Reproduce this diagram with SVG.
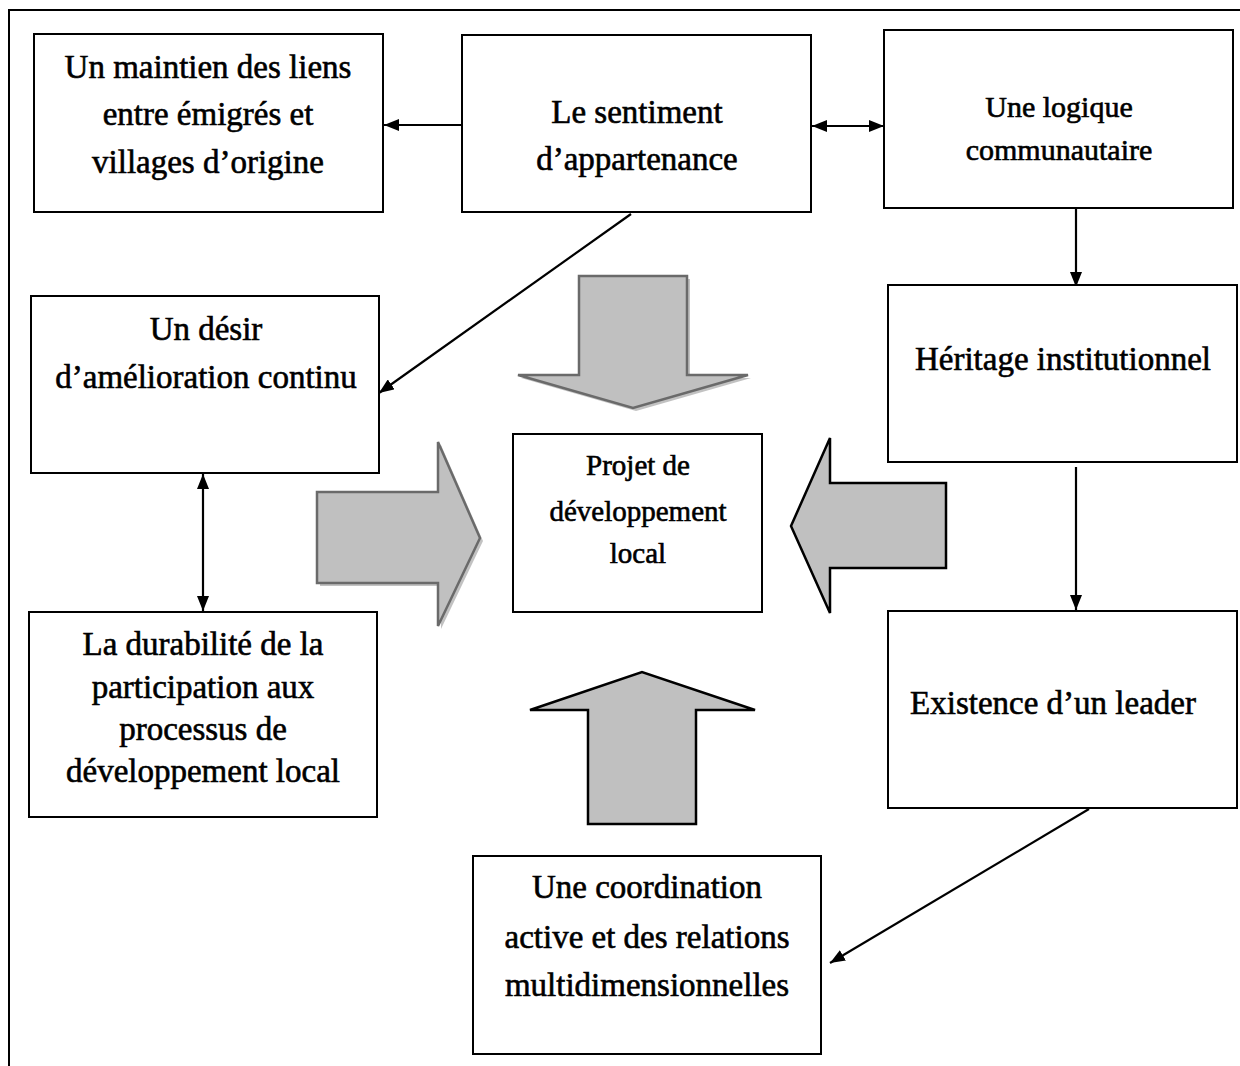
<svg xmlns="http://www.w3.org/2000/svg" width="1240" height="1066" viewBox="0 0 1240 1066">
  <style>
    .box { fill: #ffffff; stroke: #000000; stroke-width: 2; }
    .lbl { font-family: "Liberation Serif", "Times New Roman", serif; font-size: 33px; fill: #000000; stroke: #000000; stroke-width: 0.6; text-anchor: middle; }
    .sm { font-size: 30px; }
    .xs { font-size: 29px; }
    .conn { fill: none; stroke: #000000; stroke-width: 2.2; }
    .big { fill: #c0c0c0; stroke-width: 2.5; stroke-linejoin: miter; }
    .grey { stroke: #6a6a6a; }
    .dark { stroke: #000000; }
    .shadow { fill: #a8a8a8; opacity: 0.7; }
  </style>
  <defs>
    <marker id="head" viewBox="0 0 15 12" refX="15" refY="6" markerWidth="15" markerHeight="12" markerUnits="userSpaceOnUse" orient="auto-start-reverse">
      <path d="M0,0 L15,6 L0,12 Z" fill="#000000"/>
    </marker>
  </defs>
  <rect width="1240" height="1066" fill="#ffffff"/>

  <!-- page frame -->
  <path d="M9,1066 V10 H1240" fill="none" stroke="#000000" stroke-width="2"/>

  <!-- large block arrows around the central project -->
  <g id="block-arrows">
    <polygon class="shadow" points="582,279 690,279 690,378 751,378 636,411 521,378 582,378"/>
    <polygon class="big grey" points="579,276 687,276 687,375 748,375 633,408 518,375 579,375"/>
    <polygon class="shadow" points="320,495 441,495 441,445 483,541 441,629 441,586 320,586"/>
    <polygon class="big grey" points="317,492 438,492 438,442 480,538 438,626 438,583 317,583"/>
    <polygon class="big dark" points="946,483 830,483 830,438 791,526 830,613 830,568 946,568"/>
    <polygon class="big dark" points="588,824 696,824 696,710 755,710 642,672 530,710 588,710"/>
  </g>

  <!-- connectors -->
  <g id="connectors">
    <line class="conn" x1="462" y1="125" x2="384" y2="125" marker-end="url(#head)"/>
    <line class="conn" x1="812" y1="126" x2="884" y2="126" marker-start="url(#head)" marker-end="url(#head)"/>
    <line class="conn" x1="631" y1="214" x2="379" y2="393" marker-end="url(#head)"/>
    <line class="conn" x1="1076" y1="209" x2="1076" y2="287" marker-end="url(#head)"/>
    <line class="conn" x1="1076" y1="467" x2="1076" y2="610" marker-end="url(#head)"/>
    <line class="conn" x1="203" y1="474" x2="203" y2="611" marker-start="url(#head)" marker-end="url(#head)"/>
    <line class="conn" x1="1089" y1="809" x2="830" y2="963" marker-end="url(#head)"/>
  </g>

  <g id="maintien-liens">
    <rect class="box" x="34" y="34" width="349" height="178"/>
    <text class="lbl" x="208" y="78">Un maintien des liens</text>
    <text class="lbl" x="208" y="125">entre émigrés et</text>
    <text class="lbl" x="208" y="173">villages d’origine</text>
  </g>

  <g id="sentiment-appartenance">
    <rect class="box" x="462" y="35" width="349" height="177"/>
    <text class="lbl" x="637" y="123">Le sentiment</text>
    <text class="lbl" x="637" y="170">d’appartenance</text>
  </g>

  <g id="logique-communautaire">
    <rect class="box" x="884" y="30" width="349" height="178"/>
    <text class="lbl sm" x="1059" y="117">Une logique</text>
    <text class="lbl sm" x="1059" y="160">communautaire</text>
  </g>

  <g id="desir-amelioration">
    <rect class="box" x="31" y="296" width="348" height="177"/>
    <text class="lbl" x="206" y="340">Un désir</text>
    <text class="lbl" x="206" y="388">d’amélioration continu</text>
  </g>

  <g id="heritage-institutionnel">
    <rect class="box" x="888" y="285" width="349" height="177"/>
    <text class="lbl" x="1063" y="370">Héritage institutionnel</text>
  </g>

  <g id="projet-developpement">
    <rect class="box" x="513" y="434" width="249" height="178"/>
    <text class="lbl xs" x="638" y="475">Projet de</text>
    <text class="lbl xs" x="638" y="521">développement</text>
    <text class="lbl xs" x="638" y="563">local</text>
  </g>

  <g id="durabilite-participation">
    <rect class="box" x="29" y="612" width="348" height="205"/>
    <text class="lbl" x="203" y="655">La durabilité de la</text>
    <text class="lbl" x="203" y="698">participation aux</text>
    <text class="lbl" x="203" y="740">processus de</text>
    <text class="lbl" x="203" y="782">développement local</text>
  </g>

  <g id="existence-leader">
    <rect class="box" x="888" y="611" width="349" height="197"/>
    <text class="lbl" x="1053" y="714">Existence d’un leader</text>
  </g>

  <g id="coordination-active">
    <rect class="box" x="473" y="856" width="348" height="198"/>
    <text class="lbl" x="647" y="898">Une coordination</text>
    <text class="lbl" x="647" y="948">active et des relations</text>
    <text class="lbl" x="647" y="996">multidimensionnelles</text>
  </g>
</svg>
